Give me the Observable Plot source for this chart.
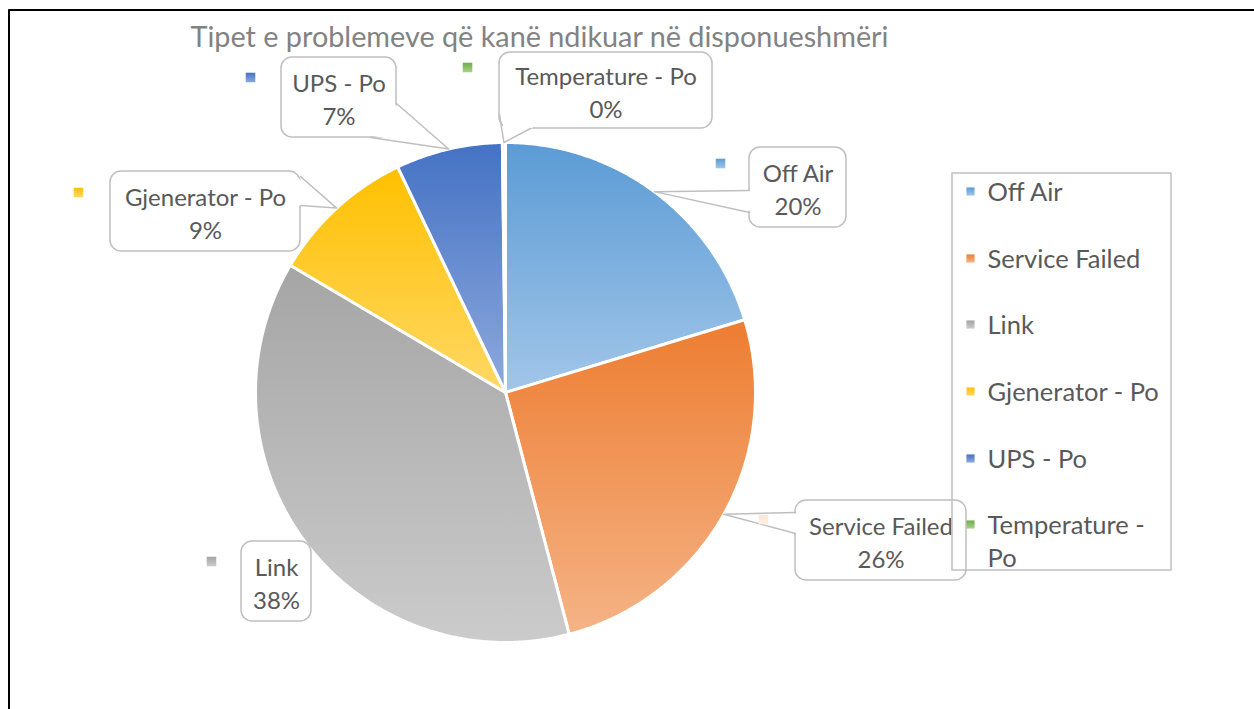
<!DOCTYPE html>
<html>
<head>
<meta charset="utf-8">
<script src="https://cdn.jsdelivr.net/npm/d3@7"></script>
<script src="https://cdn.jsdelivr.net/npm/@observablehq/plot@0.6"></script>
<style>
  html, body { margin: 0; padding: 0; background: #fff; }
  svg { display: block; }
</style>
</head>
<body>
<div id="chart"></div>
<script>
// ---- data ----
const title = "Tipet e problemeve që kanë ndikuar në disponueshmëri";
const categories = ["Off Air", "Service Failed", "Link", "Gjenerator - Po", "UPS - Po", "Temperature - Po"];
const legendLabels = ["Off Air", "Service Failed", "Link", "Gjenerator - Po", "UPS - Po", "Temperature -\nPo"];
const values = [20.3, 25.6, 37.6, 9.4, 6.9, 0.2];
const colors = ["#5B9BD5", "#ED7D31", "#A5A5A5", "#FFC000", "#4472C4", "#70AD47"];
const lightColors = ["#A2C6E9", "#F5B386", "#CBCBCB", "#FFD865", "#8EA9DD", "#A9D18E"];

// ---- layout (pixels) ----
const W = 1254, H = 709;
const cx = 505, cy = 392, R = 250;
const X = px => (px - cx) / R;
const Y = py => (py - cy) / R;
const FONT = "Lato, 'Open Sans', sans-serif";
const TEXT = "#595959";
const BORDER = "#BFBFBF";

// callout boxes: [left, top, right, bottom], pointer base points (px), key square centre
const callouts = [
  {box: [749, 147, 846, 227], base: [[749, 190], [749, 212]], key: [720, 163]},
  {box: [795, 500, 966, 580], base: [[795, 512], [795, 533]], key: [763, 519], keyColor: ["#FBE5D6", "#FDF0E8"]},
  {box: [241, 541, 311, 621], base: null, key: [211, 561]},
  {box: [110, 171, 300, 251], base: [[300, 176], [300, 205]], key: [78, 192]},
  {box: [281, 57, 396, 137], base: [[396, 103], [370, 137]], key: [250, 77]},
  {box: [499, 52, 712, 128], base: [[499, 114], [530, 128]], key: [467, 67]}
];

const total = d3.sum(values);
const arcs = d3.pie().sort(null).value(d => d)(values);

// slice polygons in unit-circle coordinates
const slices = arcs.map((a, i) => {
  const pts = [{x: 0, y: 0}];
  const n = Math.max(2, Math.ceil((a.endAngle - a.startAngle) / (Math.PI / 360)));
  for (let k = 0; k <= n; k++) {
    const t = a.startAngle + (a.endAngle - a.startAngle) * k / n;
    pts.push({x: Math.sin(t), y: -Math.cos(t)});
  }
  pts.push({x: 0, y: 0});
  return pts;
});
const tips = arcs.map(a => {
  const m = (a.startAngle + a.endAngle) / 2;
  return {x: Math.sin(m), y: -Math.cos(m)};
});

const marks = [];

// frame (top and left edges)
marks.push(Plot.line([{x: X(W + 10), y: Y(9.5)}, {x: X(8.5), y: Y(9.5)}, {x: X(8.5), y: Y(H + 10)}],
  {x: "x", y: "y", stroke: "#000", strokeWidth: 2, curve: "linear"}));

// slices
slices.forEach((pts, i) => {
  marks.push(Plot.line(pts, {x: "x", y: "y", fill: `url(#g${i})`, stroke: "white", strokeWidth: 3, strokeLinejoin: "round", curve: "linear"}));
});

// callout boxes
const boxData = callouts.map((c, i) => ({i, x1: X(c.box[0]), x2: X(c.box[2]), y1: Y(c.box[1]), y2: Y(c.box[3])}));
marks.push(Plot.rect(boxData, {x1: "x1", x2: "x2", y1: "y1", y2: "y2", fill: "white", stroke: BORDER, strokeWidth: 1.5, rx: 11}));

// pointers
callouts.forEach((c, i) => {
  if (!c.base) return;
  const [b1, b2] = c.base;
  const bx = (c.box[0] + c.box[2]) / 2, by = (c.box[1] + c.box[3]) / 2;
  const inward = p => {
    const dx = bx - p[0], dy = by - p[1], l = Math.hypot(dx, dy);
    return {x: X(p[0] + dx / l * 3), y: Y(p[1] + dy / l * 3)};
  };
  const tip = tips[i];
  marks.push(Plot.line([inward(b1), tip, inward(b2), inward(b1)], {x: "x", y: "y", fill: "white", stroke: "none", curve: "linear"}));
  marks.push(Plot.line([{x: X(b1[0]), y: Y(b1[1])}, tip, {x: X(b2[0]), y: Y(b2[1])}],
    {x: "x", y: "y", stroke: BORDER, strokeWidth: 1.5, curve: "linear", strokeLinejoin: "round"}));
});

// label texts
const labelData = callouts.map((c, i) => ({
  x: X((c.box[0] + c.box[2]) / 2),
  y: Y((c.box[1] + c.box[3]) / 2),
  text: categories[i] + "\n" + Math.round(values[i] / total * 100) + "%"
}));
marks.push(Plot.text(labelData, {x: "x", y: "y", text: "text", fill: TEXT, fontSize: 24, fontFamily: FONT, lineHeight: 1.38, textAnchor: "middle"}));

// label key squares
callouts.forEach((c, i) => {
  marks.push(Plot.dot([{x: X(c.key[0]), y: Y(c.key[1])}], {x: "x", y: "y", symbol: "square", r: 5.4, fill: c.keyColor ? `url(#k${i})` : `url(#g${i})`, stroke: "none"}));
});

// legend box
marks.push(Plot.rect([{x1: X(952), x2: X(1171), y1: Y(173), y2: Y(570)}], {x1: "x1", x2: "x2", y1: "y1", y2: "y2", fill: "none", stroke: BORDER, strokeWidth: 1.5}));
const legendRows = [190, 257, 323, 390, 457, 523];
legendLabels.forEach((lab, i) => {
  marks.push(Plot.dot([{x: X(970), y: Y(legendRows[i] + 1)}], {x: "x", y: "y", symbol: "square", r: 4.6, fill: `url(#g${i})`}));
  marks.push(Plot.text([{x: X(987), y: Y(legendRows[i]), t: lab}], {x: "x", y: "y", text: "t", textAnchor: "start", lineAnchor: "top", dy: -14, fill: TEXT, fontSize: 25.5, fontFamily: FONT, lineHeight: 1.33}));
});

// title
marks.push(Plot.text([{x: X(539), y: Y(37), t: title}], {x: "x", y: "y", text: "t", fill: "#828282", fontSize: 29, fontFamily: FONT, textAnchor: "middle", className: "charttitle"}));

const svg = Plot.plot({
  width: W, height: H, margin: 0,
  x: {domain: [-1, 1], range: [cx - R, cx + R], axis: null},
  y: {domain: [-1, 1], range: [cy - R, cy + R], axis: null},
  style: {background: "white", overflow: "visible"},
  marks
});

const defs = d3.select(svg).insert("defs", ":first-child");
colors.forEach((c, i) => {
  const g = defs.append("linearGradient").attr("id", "g" + i).attr("x1", 0).attr("y1", 0).attr("x2", 0).attr("y2", 1);
  g.append("stop").attr("offset", 0).attr("stop-color", c);
  g.append("stop").attr("offset", 1).attr("stop-color", lightColors[i]);
});
callouts.forEach((c, i) => {
  if (!c.keyColor) return;
  const g = defs.append("linearGradient").attr("id", "k" + i).attr("x1", 0).attr("y1", 0).attr("x2", 0).attr("y2", 1);
  g.append("stop").attr("offset", 0).attr("stop-color", c.keyColor[0]);
  g.append("stop").attr("offset", 1).attr("stop-color", c.keyColor[1]);
});
// stretch title to its width in the reference
d3.select(svg).selectAll(".charttitle text").attr("textLength", 698).attr("lengthAdjust", "spacingAndGlyphs");

document.getElementById("chart").appendChild(svg);
</script>
</body>
</html>
